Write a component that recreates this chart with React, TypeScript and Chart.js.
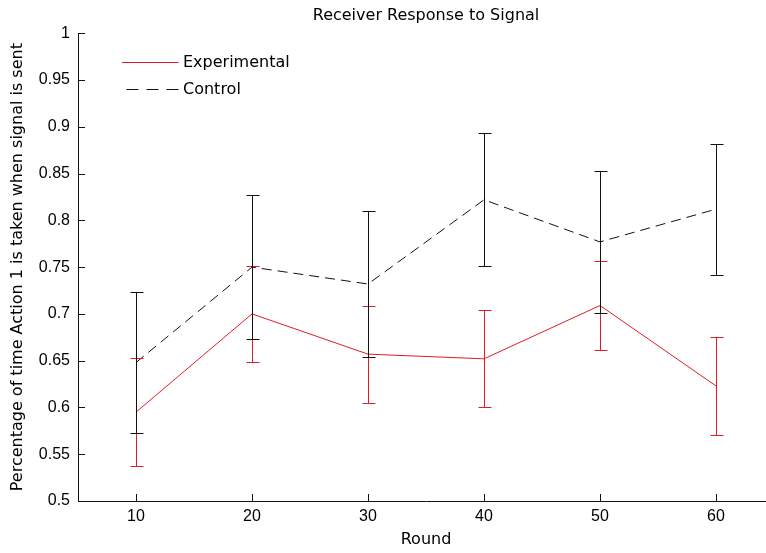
import React, { useEffect, useRef } from "react";
import { Chart, registerables } from "chart.js";

Chart.register(...registerables);

const rounds = [10, 20, 30, 40, 50, 60];
const experimentalMean = [0.595, 0.7, 0.657, 0.652, 0.709, 0.623];
const experimentalErr = [0.058, 0.051, 0.052, 0.052, 0.048, 0.052];
const controlMean = [0.648, 0.75, 0.732, 0.822, 0.777, 0.812];
const controlErr = [0.075, 0.077, 0.078, 0.071, 0.076, 0.07];
const xTickValues = [10, 20, 30, 40, 50, 60];
const yTickValues = [0.5, 0.55, 0.6, 0.65, 0.7, 0.75, 0.8, 0.85, 0.9, 0.95, 1];
const seriesNames = ["Experimental", "Control"];

const RED = "rgb(222,30,38)";
const BLACK = "#111111";
const TEXT_FONT = '"DejaVu Sans", sans-serif';
const TICK_FONT = '"Liberation Sans", Arial, sans-serif';

const errorBarPlugin = {
  id: "errorBars",
  afterDatasetsDraw(chart: any) {
    const { ctx, scales } = chart;
    const xs = scales.x;
    const ys = scales.y;
    const groups = [
      { mean: experimentalMean, err: experimentalErr, color: RED },
      { mean: controlMean, err: controlErr, color: BLACK },
    ];
    ctx.save();
    ctx.lineWidth = 1;
    ctx.setLineDash([]);
    groups.forEach((g) => {
      ctx.strokeStyle = g.color;
      rounds.forEach((r, i) => {
        const px = Math.round(xs.getPixelForValue(r)) + 0.5;
        const yt = Math.round(ys.getPixelForValue(g.mean[i] + g.err[i])) + 0.5;
        const yb = Math.round(ys.getPixelForValue(g.mean[i] - g.err[i])) + 0.5;
        ctx.beginPath();
        ctx.moveTo(px, yt);
        ctx.lineTo(px, yb);
        ctx.moveTo(px - 6, yt);
        ctx.lineTo(px + 7, yt);
        ctx.moveTo(px - 6, yb);
        ctx.lineTo(px + 7, yb);
        ctx.stroke();
      });
    });
    ctx.restore();
  },
};

const axisTicksPlugin = {
  id: "inwardTicks",
  afterDraw(chart: any) {
    const { ctx, scales, chartArea } = chart;
    ctx.save();
    ctx.strokeStyle = BLACK;
    ctx.lineWidth = 1;
    ctx.beginPath();
    scales.x.ticks.forEach((t: any) => {
      const px = Math.round(scales.x.getPixelForValue(t.value)) + 0.5;
      ctx.moveTo(px, chartArea.bottom);
      ctx.lineTo(px, chartArea.bottom - 7);
    });
    scales.y.ticks.forEach((t: any) => {
      const py = Math.round(scales.y.getPixelForValue(t.value)) + 0.5;
      ctx.moveTo(chartArea.left, py);
      ctx.lineTo(chartArea.left + 7, py);
    });
    ctx.stroke();
    ctx.restore();
  },
};

const legendPlugin = {
  id: "insideLegend",
  afterDraw(chart: any) {
    const { ctx } = chart;
    ctx.save();
    ctx.lineWidth = 1;
    ctx.strokeStyle = RED;
    ctx.setLineDash([]);
    ctx.beginPath();
    ctx.moveTo(122, 62.5);
    ctx.lineTo(178.5, 62.5);
    ctx.stroke();
    ctx.strokeStyle = BLACK;
    ctx.setLineDash([12, 8]);
    ctx.beginPath();
    ctx.moveTo(126.5, 89.5);
    ctx.lineTo(178.5, 89.5);
    ctx.stroke();
    ctx.setLineDash([]);
    ctx.fillStyle = "#000";
    ctx.font = "16px " + TEXT_FONT;
    ctx.textBaseline = "middle";
    ctx.textAlign = "left";
    ctx.fillText(seriesNames[0], 183, 63);
    ctx.fillText(seriesNames[1], 183, 89.5);
    ctx.restore();
  },
};

export default function App() {
  const ref = useRef<HTMLCanvasElement>(null);

  useEffect(() => {
    const chart = new Chart(ref.current as HTMLCanvasElement, {
      type: "line",
      data: {
        datasets: [
          {
            label: seriesNames[0],
            data: rounds.map((r, i) => ({ x: r, y: experimentalMean[i] })),
            borderColor: RED,
            borderWidth: 1,
            pointRadius: 0,
            tension: 0,
            fill: false,
          },
          {
            label: seriesNames[1],
            data: rounds.map((r, i) => ({ x: r, y: controlMean[i] })),
            borderColor: BLACK,
            borderWidth: 1,
            borderDash: [10, 6],
            pointRadius: 0,
            tension: 0,
            fill: false,
          },
        ],
      },
      options: {
        animation: false,
        responsive: false,
        devicePixelRatio: 1,
        layout: { padding: { left: 0, right: 26, top: 0, bottom: 0 } },
        plugins: {
          legend: { display: false },
          tooltip: { enabled: false },
          title: {
            display: true,
            text: "Receiver Response to Signal",
            color: "#000",
            fullSize: false,
            font: { family: TEXT_FONT, size: 16, weight: "normal" },
            padding: { top: 6, bottom: 8.1 },
          },
        },
        scales: {
          x: {
            type: "linear",
            min: 5,
            max: 65,
            grid: { display: false, drawTicks: false },
            border: { display: true, color: BLACK, width: 1 },
            afterBuildTicks: (s: any) => {
              s.ticks = xTickValues.map((v) => ({ value: v }));
            },
            afterFit: (s: any) => {
              s.height = 52;
            },
            ticks: {
              color: "#000",
              padding: 6,
              font: { family: TICK_FONT, size: 16 },
              callback: (v: any) => String(v),
            },
            title: {
              display: true,
              text: "Round",
              color: "#000",
              font: { family: TEXT_FONT, size: 16 },
              padding: { top: 0, bottom: 3.4 },
            },
          },
          y: {
            type: "linear",
            min: 0.5,
            max: 1,
            grid: { display: false, drawTicks: false },
            border: { display: true, color: BLACK, width: 1 },
            afterBuildTicks: (s: any) => {
              s.ticks = yTickValues.map((v) => ({ value: v }));
            },
            afterFit: (s: any) => {
              s.width = 78;
            },
            ticks: {
              color: "#000",
              padding: 8,
              font: { family: TICK_FONT, size: 16 },
              callback: (v: any) => String(Number(Number(v).toFixed(2))),
            },
            title: {
              display: true,
              text: "Percentage of time Action 1 is taken when signal is sent",
              color: "#000",
              font: { family: TEXT_FONT, size: 16 },
              padding: { top: 7.9, bottom: 0 },
            },
          },
        },
      },
      plugins: [errorBarPlugin, axisTicksPlugin, legendPlugin],
    } as any);
    return () => chart.destroy();
  }, []);

  return (
    <div
      style={{
        position: "fixed",
        left: 0,
        top: 0,
        width: 766,
        height: 553,
        overflow: "hidden",
        background: "#fff",
      }}
    >
      <canvas
        ref={ref}
        width={800}
        height={553}
        style={{ display: "block", width: 800, height: 553 }}
      />
    </div>
  );
}
